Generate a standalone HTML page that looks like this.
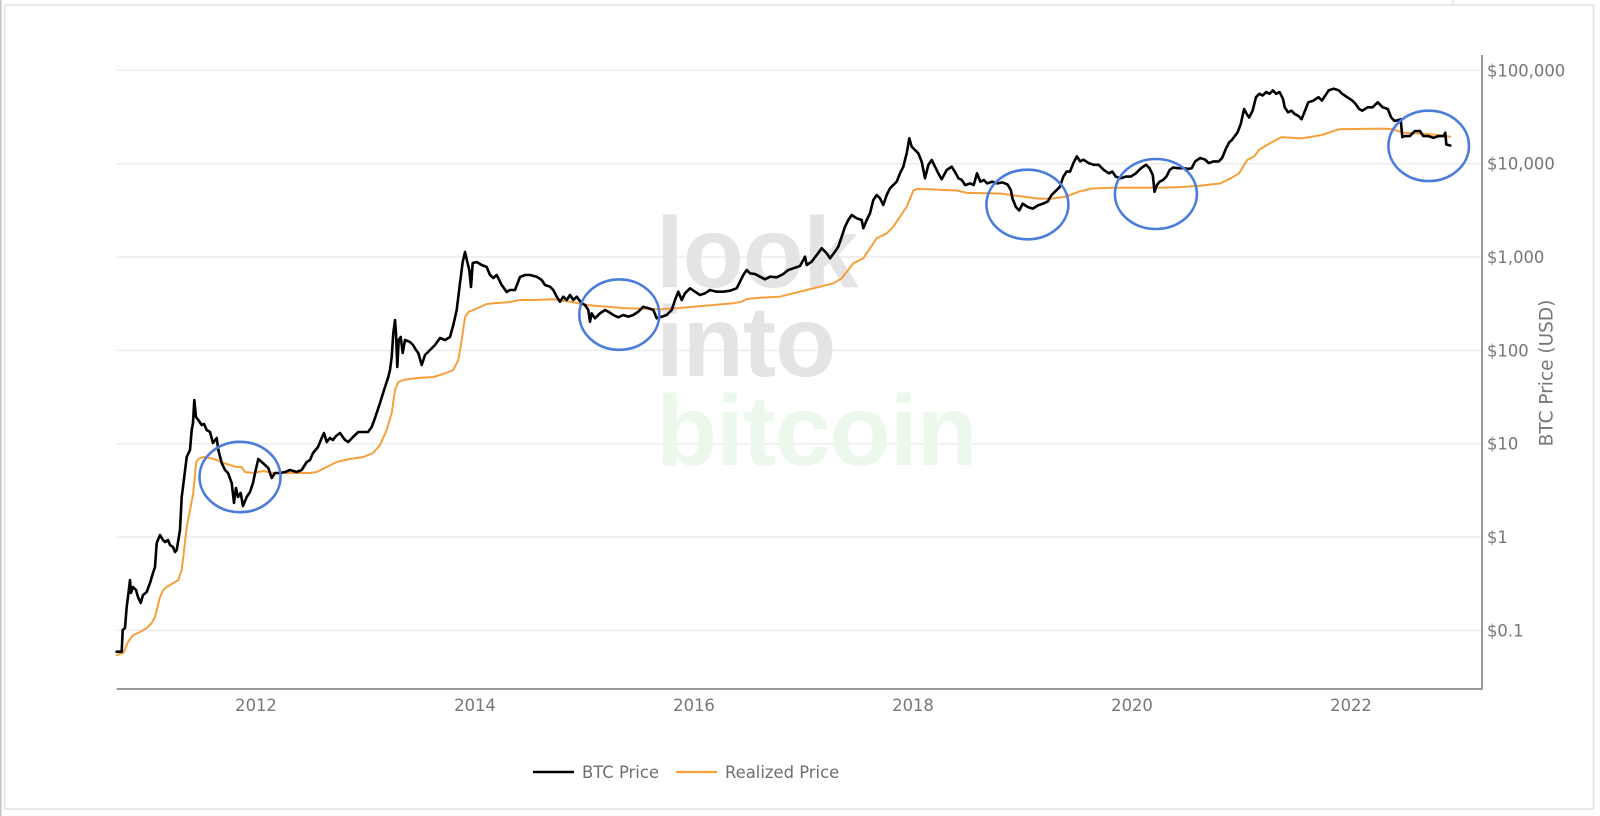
<!DOCTYPE html>
<html>
<head>
<meta charset="utf-8">
<style>
  html,body{margin:0;padding:0;background:#fff;}
  svg{display:block;}
</style>
</head>
<body>
<svg width="1600" height="816" viewBox="0 0 1600 816" xmlns="http://www.w3.org/2000/svg">
  <rect x="0" y="0" width="1600" height="816" fill="#fff"/>
  <!-- frame remnants -->
  <rect x="0" y="0" width="1.6" height="816" fill="#c6c6c6"/>
  <line x1="4.5" y1="5" x2="4.5" y2="809" stroke="#e2e2e2" stroke-width="1.5"/>
  <line x1="4.5" y1="5" x2="1593.5" y2="5" stroke="#e2e2e2" stroke-width="1.5"/>
  <line x1="1593.5" y1="5" x2="1593.5" y2="809" stroke="#e2e2e2" stroke-width="1.5"/>
  <line x1="4.5" y1="809" x2="1593.5" y2="809" stroke="#e2e2e2" stroke-width="1.5"/>
  <line x1="1453" y1="0" x2="1453" y2="5" stroke="#e2e2e2" stroke-width="1.5"/>

  <!-- gridlines -->
  <g stroke="#ececec" stroke-width="1.5">
    <line x1="116.7" y1="70.3" x2="1482" y2="70.3"/>
    <line x1="116.7" y1="163.7" x2="1482" y2="163.7"/>
    <line x1="116.7" y1="257" x2="1482" y2="257"/>
    <line x1="116.7" y1="350.4" x2="1482" y2="350.4"/>
    <line x1="116.7" y1="443.7" x2="1482" y2="443.7"/>
    <line x1="116.7" y1="537" x2="1482" y2="537"/>
    <line x1="116.7" y1="630.4" x2="1482" y2="630.4"/>
  </g>

  <!-- watermark -->
  <g font-family="'Liberation Sans', Arial, sans-serif" font-weight="bold" font-size="100" letter-spacing="-1">
    <text x="656" y="287" fill="#e4e4e4">look</text>
    <text x="656" y="376" fill="#e4e4e4">into</text>
    <text x="656" y="465" fill="#ecf8eb">bitcoin</text>
  </g>

  <!-- axes -->
  <line x1="116.7" y1="689" x2="1482" y2="689" stroke="#8a8a8a" stroke-width="1.7"/>
  <line x1="1482" y1="55" x2="1482" y2="689.8" stroke="#8a8a8a" stroke-width="1.7"/>

  <!-- realized price -->
  <polyline fill="none" stroke="#f5a03c" stroke-width="2" stroke-linejoin="round" stroke-linecap="round" points="116.7,655 123.3,653 128,642 133.3,635 140,632 146.7,628 151.7,623 155,617 160,597 163.3,590 166.7,587 173.3,583 178.3,580 181.7,570 183.3,557 186.7,527 190,510 193.3,493 196,463 198.3,459 203.3,457 210,458 216.7,460 223.3,463 230,465 236.7,467 241.7,467 245,472 253.3,473 263.3,471 273.3,473 283.3,473 296.7,473 310,473 316.7,472 326.7,467 336.7,462 350,459 363.3,457 373.3,453 380,445 386.7,430 391.7,413 395,390 398.3,382 403.3,380 416.7,378 433.3,377 443.3,374 453.3,370 458.3,360 461.7,340 465,317 468.3,312 473.3,310 480,307 486.7,304 496.7,303 510,302 520,300 533.3,300 553.3,299.3 570,301.7 586.7,305 606.7,306.7 626.7,308.3 646.7,308.7 660,309.3 676.7,308.3 693.3,306.7 713.3,305 733.3,303.3 741.7,301.7 746.7,299 760,297.7 780,296.7 793.3,293.3 806.7,290 820,286.7 833.3,283.3 841.7,278.3 848.3,270 853.3,263.3 863.3,258.3 870,248.3 876.7,238.3 886.7,233.3 893.3,226.7 900,216.7 906.7,206.7 913.3,190.7 916.7,189 930,189.3 943.3,190 956.7,190.5 966.9,192.9 1000.7,193.5 1017.6,195.9 1037.9,198.6 1051.4,198.6 1064.9,196.9 1078.5,191.8 1092,188.5 1112.3,187.8 1135.9,187.8 1159.6,187.8 1179.9,187.1 1200.2,185.8 1220.5,183.4 1230.6,178.3 1239.1,173.3 1244.1,164.8 1247.5,159.7 1254.3,156.4 1259.3,149.6 1267.8,144.5 1281.3,137.1 1301.6,138.4 1321.9,135 1338.8,129.3 1355.7,129 1382.7,128.6 1392.9,129.3 1403,132.7 1423.3,133.7 1436.8,135 1450.3,136.7"/>

  <!-- BTC price -->
  <polyline fill="none" stroke="#000" stroke-width="2.6" stroke-linejoin="round" stroke-linecap="round" points="116.7,651.7 121.7,651.7 122.7,630 125,628 126.7,606.7 128,597 130,580 131,593 133,587 136,590 138,597 140.7,603 143,595 146.7,592 150,583 153,573 155,567 156.7,543 160,535 163,540 165,542 168,540 170,545 173,547 175,552 176.7,550 180,530 181.7,497 183,487 186.7,457 190,450 191.7,430 193,423 194.3,400 196,417 198.3,420 201.7,425 204,424 206.7,430 210,432 213,443 216.7,438 218.3,450 221.7,463 225,470 228,473 231.7,483 234,503 236,488 238,497 240.7,493 243,506 246.7,497 250,492 253,483 255.7,470 258.3,459 261.7,462 265,465 268.3,468 271.7,478 275,473 280,473 285,472 290,470 296.7,472 301.7,470 306.7,462 310,460 313,453 318,447 321.7,438 324,433 326.7,442 330,438 333,440 336,436 340,433 345,440 348.3,442 353,437 358.3,432 363,432 368,432 371.7,427 375,418 380,403 385,387 388.3,377 390,370 391.7,357 393.3,333 395,320 396,333 397.3,367 398.7,340 400.7,337 402.7,353 405,340 410,342 413,345 416,350 418.3,353 421.7,365 425,355 430,350 435,345 440,338 445,340 450,337 453.3,325 456.7,310 460,283 462.7,262 465,252 467.3,262 469.3,270 471,287 472.7,263 476.7,262 481.7,265 486.7,267 490,275 493.3,278 496.7,275 501.7,285 506.7,292 510,290 515,290 520,277 525,275 530,275 536.7,276.7 541.7,280 545,285 550,286.7 553.3,290 556.7,296.7 560,301.7 563.3,296.7 566.7,300 570,295 573.3,300 576.7,296.7 581.7,303.3 585,305 588.3,310 590,321.7 591.7,313.3 595,318.3 600,313.3 605,310 608.3,311.7 613.3,315 618.3,317.3 623.3,315 628.3,316.7 633.3,315 638.3,311.7 643.3,306.7 648.3,308.3 653.3,310 656.7,318.3 661.7,316.7 666.7,315 671.7,310 675,300 678.3,291.7 681.7,300 685,293.3 690,288.3 695,291.7 700,295 705,293.3 710,290 716.7,291.7 723.3,291.7 730,290.7 736.7,288.3 740,281.7 743.3,275 746.7,270 750,273.3 755,274 760,276.7 765,279.3 770,276.7 776.7,277.3 783.3,274 788.3,270 793.3,268.3 800,266 805,256.7 806.7,265 811.7,261.7 816.7,255 821.7,248.3 826.7,253.3 830,258.3 835,251.7 838.3,246.7 841.7,236.7 845,226.7 848.3,220 851.7,215 856.7,218.3 861.7,220 863.3,228.3 866.7,220 870,213.3 873.3,200 876.7,195 880,198.3 883.3,205 886.7,195 890,188.3 893.3,185 896.7,181.7 900,173.3 903.3,166.7 906.7,153.3 909.3,138.3 911.7,146.7 915,150 918.3,153.3 921.7,161.7 925,178.3 928.3,165 931.7,160 935,166.7 938.3,173.3 941.7,179.3 946.7,170 951.7,166.7 955,172 958.5,178.3 961.8,180 965.2,185.1 970.3,183.4 973.7,185.1 977,173.3 980.4,181.7 983.8,180 987.2,183.4 992.3,181.7 997.3,183.4 1002.4,182.4 1007.5,184.4 1010.9,190.2 1012.5,198.6 1015.9,207 1019.3,210.4 1022.7,203.7 1027.8,207 1032.8,208.7 1037.9,205.4 1043,203.7 1048,201.3 1051.4,195.2 1056.5,190.2 1059.9,186.8 1063.3,176.6 1066.6,171.6 1070,171.6 1073.4,163.1 1076.8,156.4 1080.2,161.4 1083.5,159.7 1088.6,163.1 1093.7,164.8 1098.7,164.8 1103.8,169.9 1108.9,173.3 1112.3,171.6 1115.7,176.6 1120.7,178.3 1125.8,176.6 1130.9,176.6 1135.9,173.3 1141,168.2 1146.1,164.8 1149.5,168.2 1152.8,175 1154.5,191.8 1156.9,185.1 1159.6,181.7 1163,180 1166.4,176.6 1169.7,169.9 1173.1,167.5 1178.2,168.2 1183.3,168.2 1188.3,168.9 1191.7,168.2 1195.1,161.4 1200.2,158 1205.2,159.7 1208.6,163.1 1213.7,161.4 1218.8,161.4 1222.1,158 1225.5,149.6 1228.9,142.8 1232.3,139.4 1237.4,132.7 1240.7,124.2 1244.1,109 1246.8,114.1 1249.2,117.5 1252.6,110.7 1256,97.2 1259.3,93.8 1262.7,95.5 1266.1,92.1 1269.5,93.8 1272.9,90.4 1276.2,93.8 1279.6,92.1 1283,98.9 1284.7,107.3 1288.1,112.4 1291.4,110.7 1294.8,114.1 1298.2,115.8 1301.6,119.2 1305,110.7 1308.3,102.3 1313.4,100.6 1318.5,97.2 1321.9,100.6 1325.3,95.5 1328.6,90.4 1333.7,88.7 1338.8,90.4 1342.2,93.8 1347.2,97.2 1352.3,100.6 1355.7,104 1359.1,109 1362.4,110.7 1367.5,107.3 1372.6,107.3 1377.7,102.3 1382.7,107.3 1387.8,109 1391.2,117.5 1394.6,120.9 1398,120.2 1400.7,119.2 1402.3,137.1 1404.7,136.1 1409.8,136.1 1414.9,131 1419.9,131 1423.3,136.1 1428.4,136.1 1433.5,137.8 1438.5,136.1 1443.6,136.1 1445.3,132.7 1446.3,144.5 1450.3,145.5"/>

  <!-- blue annotation circles -->
  <g fill="none" stroke="#4a7cdc" stroke-width="2.6">
    <ellipse cx="240" cy="477" rx="40.5" ry="35.2"/>
    <ellipse cx="619.3" cy="314.6" rx="40" ry="35.2"/>
    <ellipse cx="1027.4" cy="204.5" rx="41" ry="34.8"/>
    <ellipse cx="1155.9" cy="194" rx="41" ry="35"/>
    <ellipse cx="1428.7" cy="145.9" rx="40.3" ry="35.2"/>
  </g>

  <!-- y tick labels -->
  <g font-family="'DejaVu Sans', Verdana, sans-serif" font-size="16.4" fill="#777">
    <text x="1487" y="76.3">$100,000</text>
    <text x="1487" y="169.7">$10,000</text>
    <text x="1487" y="263">$1,000</text>
    <text x="1487" y="356.4">$100</text>
    <text x="1487" y="449.7">$10</text>
    <text x="1487" y="543">$1</text>
    <text x="1487" y="636.4">$0.1</text>
  </g>

  <!-- x tick labels -->
  <g font-family="'DejaVu Sans', Verdana, sans-serif" font-size="16.4" fill="#777" text-anchor="middle">
    <text x="256" y="711">2012</text>
    <text x="475" y="711">2014</text>
    <text x="694" y="711">2016</text>
    <text x="913" y="711">2018</text>
    <text x="1132" y="711">2020</text>
    <text x="1351" y="711">2022</text>
  </g>

  <!-- y axis title -->
  <text transform="translate(1552.5,373) rotate(-90)" text-anchor="middle" font-family="'DejaVu Sans', Verdana, sans-serif" font-size="18.5" fill="#777">BTC Price (USD)</text>

  <!-- legend -->
  <line x1="533" y1="772" x2="574" y2="772" stroke="#000" stroke-width="2.4"/>
  <text x="582" y="778" font-family="'DejaVu Sans', Verdana, sans-serif" font-size="16.4" fill="#6e6e6e">BTC Price</text>
  <line x1="676" y1="772" x2="717" y2="772" stroke="#f5a03c" stroke-width="2.2"/>
  <text x="725" y="778" font-family="'DejaVu Sans', Verdana, sans-serif" font-size="16.4" fill="#6e6e6e">Realized Price</text>
</svg>
</body>
</html>
